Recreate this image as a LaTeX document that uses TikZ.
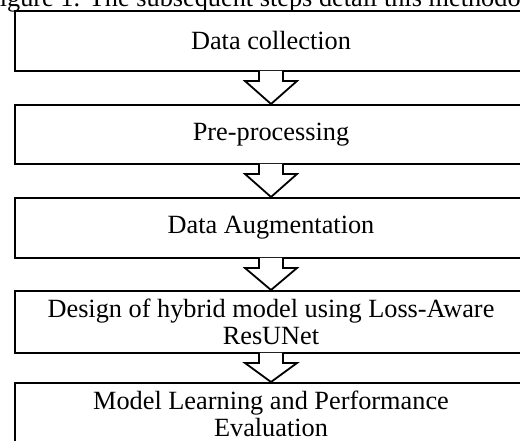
\documentclass[tikz,border=0pt]{standalone}
\usepackage{fontspec}
\setmainfont{Liberation Serif}
\usetikzlibrary{calc}
\newcommand\stepfont{\fontsize{26.3}{27}\selectfont}
% hollow block arrow from the bottom of one step to the top of the next
\newcommand\steparrow[2]{%
  \filldraw[flowarrow]
    ($(#1.south)+(-12,-1.2)$) -- ($(#1.south)+(-12,9)$) -- ($(#1.south)+(-26,9)$)
    -- (#2.north)
    -- ($(#1.south)+(26,9)$) -- ($(#1.south)+(12,9)$) -- ($(#1.south)+(12,-1.2)$);
}
\begin{document}
\begin{tikzpicture}[x=1pt,y=-1pt,
  stepbox/.style={draw=black, line width=2pt, minimum width=512pt, inner sep=0pt,
                  align=center, font=\stepfont},
  flowarrow/.style={draw=black, fill=white, line width=1.8pt, line join=miter}]
\useasboundingbox (0,0) rectangle (520,441);
\clip (0,0) rectangle (520,441);

% caption line above the chart
\node[anchor=base west, inner sep=0pt, font=\stepfont] (caption) at (-15,7)
  {Figure 1. The subsequent steps detail this methodology.};

% process steps
\node[stepbox, minimum height=60pt] (s1) at (271,41)    {Data collection};
\node[stepbox, minimum height=59pt] (s2) at (271,134.5) {Pre-processing};
\node[stepbox, minimum height=60pt] (s3) at (271,228)   {Data Augmentation};
\node[stepbox, minimum height=62pt] (s4) at (271,322)
  {Design of hybrid model using Loss-Aware\\ResUNet};
\node[stepbox, minimum height=62pt] (s5) at (271,414)
  {Model Learning and Performance\\Evaluation};

% connectors
\steparrow{s1}{s2}
\steparrow{s2}{s3}
\steparrow{s3}{s4}
\steparrow{s4}{s5}
\end{tikzpicture}
\end{document}
